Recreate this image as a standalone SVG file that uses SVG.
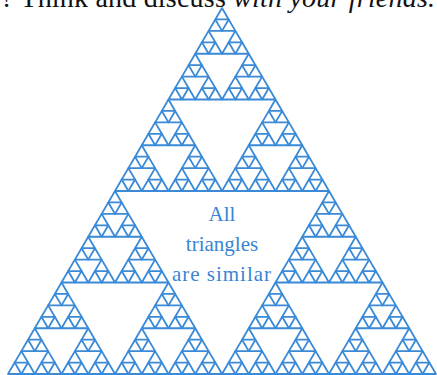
<svg xmlns="http://www.w3.org/2000/svg" xmlns:xlink="http://www.w3.org/1999/xlink" width="437" height="375" viewBox="0 0 437 375">
  <style>
    .tri { fill: none; stroke: #3a8ad8; stroke-width: 1.8; stroke-linejoin: round; }
    .lbl { font-family: "Liberation Serif", "Times New Roman", serif; font-size: 21px; fill: #3a84d4; text-anchor: middle; }
    .top { font-family: "Liberation Serif", "Times New Roman", serif; font-size: 28px; fill: #111; }
  </style>
  <defs>
    <path id="t0" class="tri" d="M0,0 L-6.6875,11.4375 L6.6875,11.4375 Z"/>
    <g id="t1">
      <use xlink:href="#t0" href="#t0"/>
      <use xlink:href="#t0" href="#t0" x="-6.6875" y="11.4375"/>
      <use xlink:href="#t0" href="#t0" x="6.6875" y="11.4375"/>
    </g>
    <g id="t2">
      <use xlink:href="#t1" href="#t1"/>
      <use xlink:href="#t1" href="#t1" x="-13.375" y="22.875"/>
      <use xlink:href="#t1" href="#t1" x="13.375" y="22.875"/>
    </g>
    <g id="t3">
      <use xlink:href="#t2" href="#t2"/>
      <use xlink:href="#t2" href="#t2" x="-26.75" y="45.75"/>
      <use xlink:href="#t2" href="#t2" x="26.75" y="45.75"/>
    </g>
    <g id="t4">
      <use xlink:href="#t3" href="#t3"/>
      <use xlink:href="#t3" href="#t3" x="-53.5" y="91.5"/>
      <use xlink:href="#t3" href="#t3" x="53.5" y="91.5"/>
    </g>
    <g id="t5">
      <use xlink:href="#t4" href="#t4"/>
      <use xlink:href="#t4" href="#t4" x="-107" y="183"/>
      <use xlink:href="#t4" href="#t4" x="107" y="183"/>
    </g>
  </defs>
  <rect width="437" height="375" fill="#ffffff"/>
  <g id="heading">
    <text class="top" x="1" y="7" textLength="434" lengthAdjust="spacing">? Think and discuss <tspan font-style="italic">with your friends.</tspan></text>
  </g>
  <g id="sierpinski">
    <use xlink:href="#t5" href="#t5" x="222" y="8"/>
  </g>
  <g id="label">
    <text class="lbl" x="222" y="221">All</text>
    <text class="lbl" x="222" y="251">triangles</text>
    <text class="lbl" x="222" y="281" letter-spacing="1">are similar</text>
  </g>
</svg>
